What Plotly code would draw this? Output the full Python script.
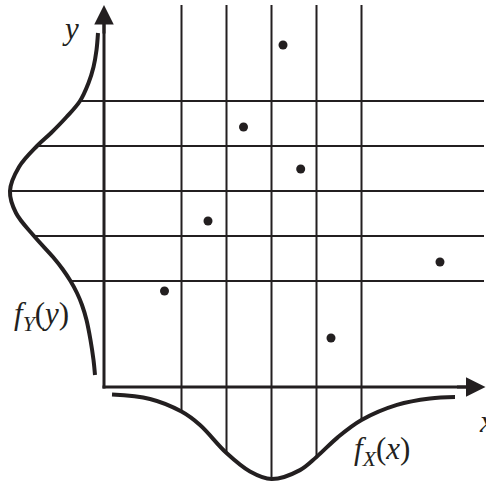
import plotly.graph_objects as go

# Sample points of the joint distribution (x, y)
pts_x = [3.256, 2.378, 3.649, 1.589, 0.622, 6.744, 4.322]
pts_y = [6.244, 4.422, 3.489, 2.333, 0.778, 1.422, -0.267]

# Grid positions on each axis
grid_x = [1, 2, 3, 4, 5]
grid_y = [1, 2, 3, 4, 5]

# Marginal density f_Y(y), drawn to the left of the y axis
fy_y = [6.511, 6.133, 5.756, 5.4, 5.0, 4.644, 4.289, 4.0, 3.533, 3.0,
        2.511, 2.0, 1.533, 1.267, 1.0, 0.733, 0.467, 0.133, -0.311, -0.756,
        -1.089]
fy_d = [0.0036, 0.0089, 0.0196, 0.0375, 0.0679, 0.1161, 0.1714, 0.2214,
        0.2857, 0.3179, 0.2964, 0.2321, 0.1643, 0.1304, 0.1018, 0.0786,
        0.0607, 0.0446, 0.0304, 0.0196, 0.0143]

# Marginal density f_X(x), drawn below the x axis
fx_x = [-0.544, 0.3, 1.0, 1.411, 2.0, 2.522, 3.0, 3.633, 4.0, 4.478,
        5.0, 5.789, 6.522, 7.078]
fx_d = [0.009, 0.025, 0.070, 0.118, 0.218, 0.284, 0.311, 0.279, 0.232, 0.161,
        0.100, 0.046, 0.023, 0.018]

INK = "#231f20"
W, H = 486, 482

# Axis ranges (main scatter plane and the two density scales)
X_RANGE = [-3.0333, 7.7667]
Y_RANGE = [-3.4667, 7.2444]
DY_RANGE = [0.35357, -1.38214]   # f_Y density grows to the left
DX_RANGE = [0.32143, -1.4]       # f_X density grows downward

AXIS_X0 = -0.7222    # where the y axis stands
AXIS_Y0 = -1.3556    # where the x axis stands
GRID_TOP_D = -1.382  # top end of vertical grid lines (f_X density scale)
GRID_RIGHT_D = -1.375  # right end of horizontal grid lines (f_Y density scale)

fig = go.Figure()

# vertical grid lines: from the top down to the f_X curve
vx, vd = [], []
for g in grid_x:
    d = fx_d[fx_x.index(float(g))]
    vx += [g, g, None]
    vd += [GRID_TOP_D, d, None]
fig.add_trace(go.Scatter(x=vx, y=vd, xaxis="x", yaxis="y2", mode="lines",
                         line=dict(color=INK, width=2), hoverinfo="skip"))

# horizontal grid lines: from the f_Y curve to the right edge
hy, hd = [], []
for g in grid_y:
    d = fy_d[fy_y.index(float(g))]
    hy += [g, g, None]
    hd += [d, GRID_RIGHT_D, None]
fig.add_trace(go.Scatter(x=hd, y=hy, xaxis="x2", yaxis="y", mode="lines",
                         line=dict(color=INK, width=2), hoverinfo="skip"))

# coordinate axes
fig.add_trace(go.Scatter(x=[AXIS_X0, AXIS_X0], y=[-1.3889, 6.9],
                         mode="lines", line=dict(color=INK, width=3),
                         hoverinfo="skip"))
fig.add_trace(go.Scatter(x=[-0.7556, 7.55], y=[AXIS_Y0, AXIS_Y0],
                         mode="lines", line=dict(color=INK, width=3),
                         hoverinfo="skip"))

# density curves
fig.add_trace(go.Scatter(x=fy_d, y=fy_y, xaxis="x2", yaxis="y", mode="lines",
                         line=dict(color=INK, width=4, shape="spline"),
                         hoverinfo="skip"))
fig.add_trace(go.Scatter(x=fx_x, y=fx_d, xaxis="x", yaxis="y2", mode="lines",
                         line=dict(color=INK, width=4, shape="spline"),
                         hoverinfo="skip"))

# sample points
fig.add_trace(go.Scatter(x=pts_x, y=pts_y, mode="markers",
                         marker=dict(color=INK, size=9), hoverinfo="skip"))

# arrow heads
arrow = dict(xref="x", yref="y", text="", showarrow=True, arrowhead=2,
             arrowwidth=3, arrowsize=1.3, arrowcolor=INK, standoff=0,
             font=dict(size=1))
fig.add_annotation(x=AXIS_X0, y=7.1333, ax=0, ay=30, **arrow)
fig.add_annotation(x=7.7556, y=AXIS_Y0, ax=-30, ay=0, **arrow)

# labels
lab = dict(xref="x", yref="y", showarrow=False,
           font=dict(family="Liberation Serif", size=31, color=INK))
fig.add_annotation(x=-1.456, y=6.622, text="<i>y</i>", **lab)
fig.add_annotation(x=7.567, y=-2.133, text="<i>x</i>", xanchor="left", **lab)
fig.add_annotation(x=-2.767, y=0.222, text="<i>f</i><sub><i>Y</i></sub>(<i>y</i>)",
                   xanchor="left", **lab)
fig.add_annotation(x=4.789, y=-2.778, text="<i>f</i><sub><i>X</i></sub>(<i>x</i>)",
                   xanchor="left", **lab)

hidden = dict(visible=False, fixedrange=True, showgrid=False, zeroline=False)
fig.update_layout(
    width=W, height=H,
    margin=dict(l=0, r=0, t=0, b=0),
    paper_bgcolor="white", plot_bgcolor="white",
    showlegend=False, hovermode=False,
    xaxis=dict(range=X_RANGE, domain=[0, 1], **hidden),
    yaxis=dict(range=Y_RANGE, domain=[0, 1], **hidden),
    xaxis2=dict(range=DY_RANGE, overlaying="x", anchor="y", **hidden),
    yaxis2=dict(range=DX_RANGE, overlaying="y", anchor="x", **hidden),
)

fig.write_html("out.html")
